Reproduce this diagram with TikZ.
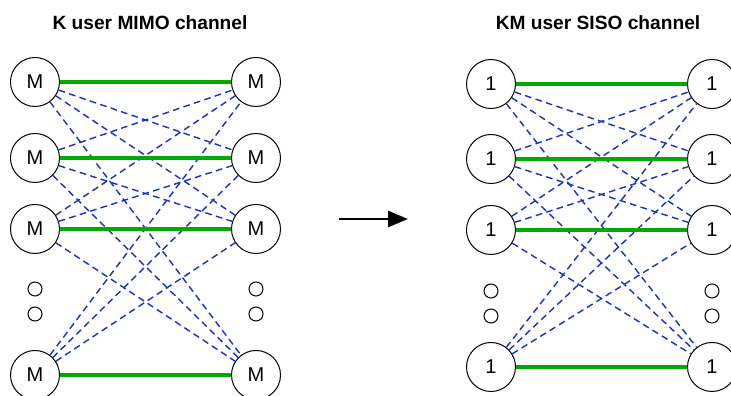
\documentclass[tikz,border=0pt]{standalone}
\usepackage{fontspec}
\setmainfont{Liberation Sans}
\usetikzlibrary{arrows.meta}

\definecolor{linkgreen}{RGB}{0,170,0}
\definecolor{crossblue}{RGB}{20,50,205}

\tikzset{
	user/.style={draw,circle,line width=0.6pt,minimum size=29.4pt,inner sep=0pt,font=\fontsize{12}{14}\selectfont},
	dot/.style={draw,circle,line width=0.6pt,minimum size=8.4pt,inner sep=0pt},
	direct/.style={draw=linkgreen,line width=1.9pt},
	cross/.style={draw=crossblue,line width=0.85pt,dash pattern=on 4pt off 2.6pt},
	title/.style={font=\fontsize{11.5}{13}\selectfont\bfseries}
}

\begin{document}
\begin{tikzpicture}[x=0.6pt,y=-0.6pt]
	\useasboundingbox (0,0) rectangle (731,396);

	\node[title] (mimo) at (150,23) {K user MIMO channel};
	\node[title] (siso) at (598,23) {KM user SISO channel};

	% K user MIMO channel
	\node[user] (t1) at (35,82) {M};
	\node[user] (t2) at (35,158) {M};
	\node[user] (t3) at (35,229) {M};
	\node[user] (t4) at (35,375) {M};
	\node[user] (r1) at (256,82) {M};
	\node[user] (r2) at (256,158) {M};
	\node[user] (r3) at (256,229) {M};
	\node[user] (r4) at (256,375) {M};
	\node[dot] (td1) at (35,289) {};
	\node[dot] (td2) at (35,314) {};
	\node[dot] (rd1) at (256,289) {};
	\node[dot] (rd2) at (256,314) {};

	\path [cross]
	(t1) edge (r2)
	(t1) edge (r3)
	(t1) edge (r4)
	(t2) edge (r1)
	(t2) edge (r3)
	(t2) edge (r4)
	(t3) edge (r1)
	(t3) edge (r2)
	(t3) edge (r4)
	(t4) edge (r1)
	(t4) edge (r2)
	(t4) edge (r3);

	\path [direct]
	(t1) edge (r1)
	(t2) edge (r2)
	(t3) edge (r3)
	(t4) edge (r4);

	% arrow
	\coordinate (from) at (339,219);
	\coordinate (to) at (408,219);
	\draw [line width=1.6pt,-{Triangle[length=12pt,width=9.6pt]}] (from) -- (to);

	% KM user SISO channel
	\node[user] (u1) at (491,84) {1};
	\node[user] (u2) at (491,159) {1};
	\node[user] (u3) at (491,230) {1};
	\node[user] (u4) at (491,367) {1};
	\node[user] (v1) at (712,84) {1};
	\node[user] (v2) at (712,159) {1};
	\node[user] (v3) at (712,230) {1};
	\node[user] (v4) at (712,367) {1};
	\node[dot] (ud1) at (491,291) {};
	\node[dot] (ud2) at (491,316) {};
	\node[dot] (vd1) at (712,291) {};
	\node[dot] (vd2) at (712,316) {};

	\path [cross]
	(u1) edge (v2)
	(u1) edge (v3)
	(u1) edge (v4)
	(u2) edge (v1)
	(u2) edge (v3)
	(u2) edge (v4)
	(u3) edge (v1)
	(u3) edge (v2)
	(u3) edge (v4)
	(u4) edge (v1)
	(u4) edge (v2)
	(u4) edge (v3);

	\path [direct]
	(u1) edge (v1)
	(u2) edge (v2)
	(u3) edge (v3)
	(u4) edge (v4);
\end{tikzpicture}
\end{document}
